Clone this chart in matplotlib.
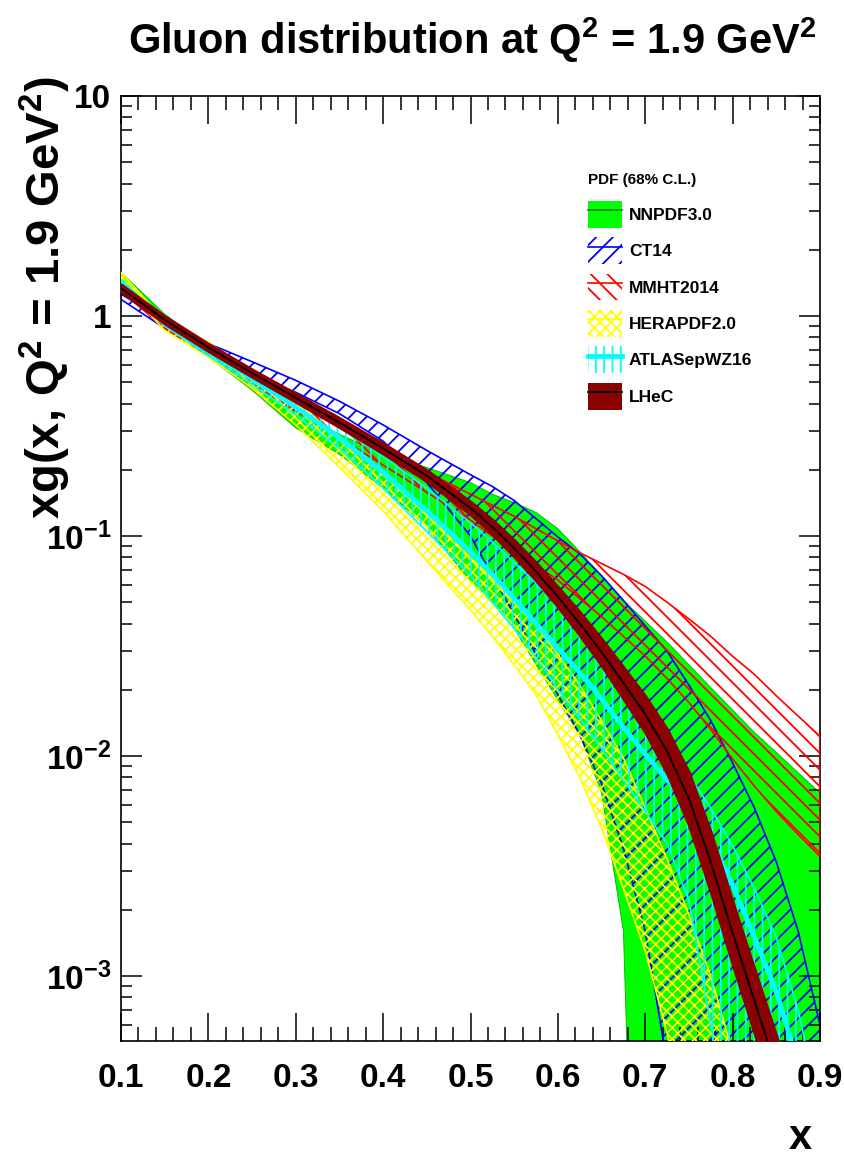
import numpy as np
import matplotlib
matplotlib.use('Agg')
import matplotlib.pyplot as plt
from matplotlib.patches import Patch
from matplotlib.lines import Line2D
from matplotlib.ticker import MultipleLocator, LogLocator, FuncFormatter, NullFormatter

plt.rcParams['font.family'] = ['Liberation Sans', 'DejaVu Sans']
plt.rcParams['font.weight'] = 'bold'
plt.rcParams['mathtext.fontset'] = 'custom'
plt.rcParams['mathtext.bf'] = 'Liberation Sans:bold'
plt.rcParams['mathtext.rm'] = 'Liberation Sans:bold'
plt.rcParams['mathtext.default'] = 'bf'
plt.rcParams['hatch.linewidth'] = 1.3

# x grid
x = [0.10, 0.15, 0.20, 0.25, 0.30, 0.35, 0.40, 0.45, 0.50, 0.525, 0.55, 0.575,
     0.60, 0.625, 0.65, 0.675, 0.70, 0.725, 0.75, 0.775, 0.80, 0.825, 0.85, 0.875, 0.90]

# NNPDF3.0 68% band
nnpdf_lo = [1.45, 0.92, 0.65, 0.46, 0.31, 0.235, 0.165, 0.11, 0.062, 0.05, 0.038, 0.026,
            0.018, 0.0125, 0.0068, 0.0016, 1e-6, 1e-6, 1e-6, 1e-6, 1e-6, 1e-6, 1e-6, 1e-6, 1e-6]
nnpdf_hi = [1.58, 1.02, 0.73, 0.50, 0.37, 0.29, 0.235, 0.205, 0.175, 0.155, 0.142, 0.128,
            0.108, 0.085, 0.066, 0.051, 0.041, 0.033, 0.026, 0.0205, 0.0162, 0.0128, 0.0104, 0.0084, 0.0068]

# CT14
ct14_lo = [1.19, 0.88, 0.66, 0.54, 0.45, 0.36, 0.27, 0.175, 0.10, 0.066, 0.044, 0.029,
           0.019, 0.0125, 0.0075, 0.0038, 0.0016, 0.0004, 5e-5, 1e-6, 1e-6, 1e-6, 1e-6, 1e-6, 1e-6]
ct14_hi = [1.26, 0.95, 0.75, 0.62, 0.51, 0.41, 0.32, 0.245, 0.19, 0.168, 0.145, 0.12,
           0.099, 0.083, 0.066, 0.051, 0.039, 0.030, 0.021, 0.0145, 0.0093, 0.0058, 0.0033, 0.0016, 0.0006]

# MMHT2014
mmht_lo = [1.30, 0.88, 0.66, 0.49, 0.37, 0.28, 0.21, 0.158, 0.118, 0.10, 0.087, 0.074,
           0.063, 0.052, 0.043, 0.035, 0.0285, 0.0225, 0.0175, 0.0132, 0.0097, 0.0073, 0.0056, 0.0044, 0.0035]
mmht_hi = [1.40, 0.95, 0.72, 0.55, 0.42, 0.325, 0.25, 0.195, 0.155, 0.138, 0.123, 0.108,
           0.095, 0.084, 0.075, 0.067, 0.059, 0.050, 0.042, 0.035, 0.0284, 0.0235, 0.0188, 0.0152, 0.0123]

# HERAPDF2.0
hera_lo = [1.42, 0.86, 0.65, 0.47, 0.32, 0.205, 0.13, 0.077, 0.046, 0.035, 0.026, 0.019,
           0.0125, 0.008, 0.0047, 0.0025, 0.0013, 0.00055, 0.0002, 6e-5, 1e-6, 1e-6, 1e-6, 1e-6, 1e-6]
hera_hi = [1.58, 0.95, 0.76, 0.55, 0.405, 0.28, 0.19, 0.125, 0.08, 0.064, 0.05, 0.039,
           0.029, 0.021, 0.0145, 0.0098, 0.0058, 0.0034, 0.0019, 0.001, 0.00045, 0.00015, 2e-5, 1e-6, 1e-6]

# ATLASepWZ16
atlas_lo = [1.38, 0.90, 0.66, 0.49, 0.355, 0.25, 0.165, 0.105, 0.066, 0.05, 0.038, 0.028,
            0.02, 0.0148, 0.0108, 0.0078, 0.0056, 0.004, 0.0022, 0.0006, 0.00012, 1e-6, 1e-6, 1e-6, 1e-6]
atlas_c = [1.42, 0.93, 0.69, 0.52, 0.385, 0.28, 0.195, 0.13, 0.085, 0.067, 0.052, 0.04,
           0.031, 0.024, 0.0182, 0.0135, 0.0102, 0.0078, 0.0062, 0.0042, 0.0026, 0.0015, 0.00085, 0.0004, 0.00016]
atlas_hi = [1.46, 0.96, 0.72, 0.55, 0.42, 0.31, 0.23, 0.165, 0.115, 0.094, 0.076, 0.061,
            0.048, 0.037, 0.028, 0.0205, 0.0148, 0.0108, 0.0082, 0.0058, 0.0039, 0.0025, 0.0015, 0.0007, 0.00025]

# LHeC central value and relative uncertainty
lhec_c = [1.34, 0.96, 0.72, 0.55, 0.425, 0.328, 0.25, 0.188, 0.134, 0.11, 0.088, 0.069,
          0.053, 0.040, 0.0297, 0.0215, 0.0155, 0.0105, 0.0064, 0.0033, 0.00157, 0.00077, 0.00038, 0.00018, 8e-5]
lhec_err = [0.04, 0.04, 0.04, 0.04, 0.045, 0.05, 0.055, 0.06, 0.07, 0.08, 0.09, 0.10,
            0.11, 0.13, 0.15, 0.18, 0.21, 0.26, 0.32, 0.37, 0.39, 0.40, 0.41, 0.42, 0.43]

x = np.array(x)
lhec_c = np.array(lhec_c)
lhec_err = np.array(lhec_err)

fig = plt.figure(figsize=(8.44, 11.62), dpi=100)
ax = fig.add_axes([121/844, 1 - 1041/1162, 699/844, 945/1162])

GREEN = '#00ff00'
BLUE = '#0000ff'
RED = '#ff0000'
YELLOW = '#ffff00'
CYAN = '#00ffff'
DARKRED = '#8b0000'

ax.fill_between(x, nnpdf_lo, nnpdf_hi, facecolor=GREEN, edgecolor='#00b000', linewidth=0.6, zorder=1)
ax.fill_between(x, ct14_lo, ct14_hi, facecolor='none', edgecolor=BLUE, hatch='//', linewidth=1.2, zorder=2)
ax.fill_between(x, mmht_lo, mmht_hi, facecolor='none', edgecolor=RED, hatch='\\\\', linewidth=1.2, zorder=3)
ax.fill_between(x, hera_lo, hera_hi, facecolor='none', edgecolor=YELLOW, hatch='xxx', linewidth=1.2, zorder=4)
ax.fill_between(x, atlas_lo, atlas_hi, facecolor='none', edgecolor=CYAN, hatch='||', linewidth=1.2, zorder=5)
ax.plot(x, atlas_c, color=CYAN, lw=3.5, zorder=5.5)
ax.fill_between(x, lhec_c / (1 + lhec_err), lhec_c * (1 + lhec_err), facecolor=DARKRED,
                edgecolor=DARKRED, linewidth=2.0, zorder=6)
ax.plot(x, lhec_c, color='black', lw=1.3, zorder=7)

ax.set_xlim(0.1, 0.9)
ax.set_yscale('log')
ax.set_ylim(5.07e-4, 10)

ax.xaxis.set_major_locator(MultipleLocator(0.1))
ax.xaxis.set_minor_locator(MultipleLocator(0.02))
ax.yaxis.set_major_locator(LogLocator(base=10, numticks=10))
ax.yaxis.set_minor_locator(LogLocator(base=10, subs=np.arange(2, 10), numticks=20))
ax.yaxis.set_minor_formatter(NullFormatter())


def yfmt(v, pos):
    if v >= 0.99 and v < 1.01:
        return '1'
    if v > 9.9 and v < 10.1:
        return '10'
    return r'$10^{%d}$' % int(round(np.log10(v)))


ax.yaxis.set_major_formatter(FuncFormatter(yfmt))
ax.xaxis.set_major_formatter(FuncFormatter(lambda v, p: '%.1f' % v))

ax.tick_params(axis='x', which='both', direction='in', top=True, bottom=True, width=1.1,
               labelsize=24, pad=16)
ax.tick_params(axis='x', which='major', length=20)
ax.tick_params(axis='x', which='minor', length=10)
ax.tick_params(axis='y', which='both', direction='in', left=True, right=True, width=1.1,
               labelsize=24, pad=7)
ax.tick_params(axis='y', which='major', length=15)
ax.tick_params(axis='y', which='minor', length=8)
for s in ax.spines.values():
    s.set_linewidth(1.2)

fig.text(472/844, 1 - 40/1162, r'Gluon distribution at Q$^{2}$ = 1.9 GeV$^{2}$',
         ha='center', va='center', fontsize=30, fontweight='bold')
fig.text(45/844, 1 - 76/1162, r'xg(x, Q$^{2}$ = 1.9 GeV$^{2}$)', rotation=90,
         ha='center', va='top', fontsize=34, fontweight='bold')
fig.text(800/844, 1 - 1138/1162, 'x', ha='center', va='center', fontsize=30, fontweight='bold')

handles = [
    (Patch(facecolor=GREEN, edgecolor='none'), Line2D([], [], color='#007700', lw=1.2)),
    (Patch(facecolor='none', edgecolor=BLUE, hatch='//', lw=0), Line2D([], [], color=BLUE, lw=1.2)),
    (Patch(facecolor='none', edgecolor=RED, hatch='\\\\', lw=0), Line2D([], [], color=RED, lw=1.2)),
    (Patch(facecolor='none', edgecolor=YELLOW, hatch='xxx', lw=0), Line2D([], [], color=YELLOW, lw=1.2)),
    (Patch(facecolor='none', edgecolor=CYAN, hatch='||', lw=0), Line2D([], [], color=CYAN, lw=3.5)),
    (Patch(facecolor=DARKRED, edgecolor='none'), Line2D([], [], color='black', lw=1.3)),
]
labels = ['NNPDF3.0', 'CT14', 'MMHT2014', 'HERAPDF2.0', 'ATLASepWZ16', 'LHeC']
leg = fig.legend(handles, labels, loc='upper left', bbox_to_anchor=(588/844, 1 - 173/1162),
                 bbox_transform=fig.transFigure, frameon=False, fontsize=12.5,
                 title='PDF (68% C.L.)', title_fontsize=11, alignment='left',
                 handlelength=1.95, handleheight=2.0, labelspacing=0.55, handletextpad=0.4,
                 borderpad=0, borderaxespad=0)
leg.get_title().set_fontweight('bold')
leg._legend_box.sep = 10
for t in leg.get_texts():
    t.set_fontweight('bold')

fig.savefig('out.png', dpi=100)
